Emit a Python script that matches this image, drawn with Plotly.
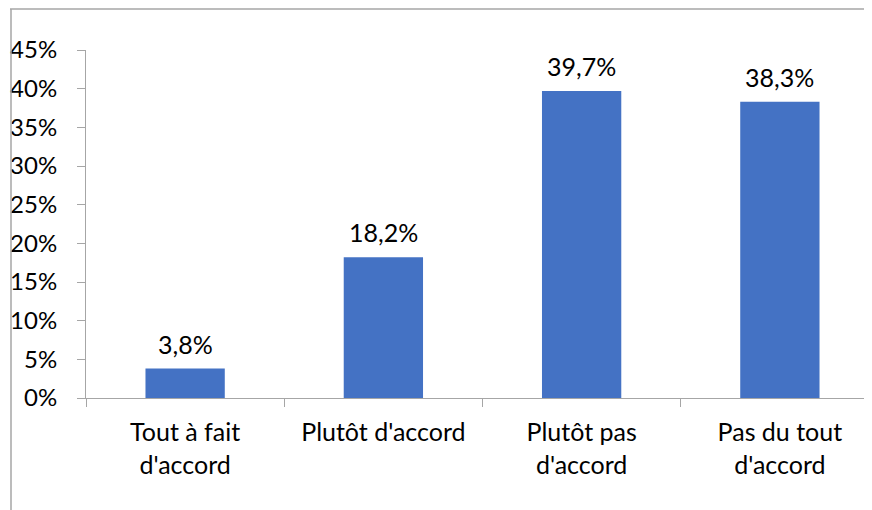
import plotly.graph_objects as go

categories = ["Tout à fait<br>d'accord", "Plutôt d'accord", "Plutôt pas<br>d'accord", "Pas du tout<br>d'accord"]
values = [0.038, 0.182, 0.397, 0.383]
tick_vals = [0, 0.05, 0.10, 0.15, 0.20, 0.25, 0.30, 0.35, 0.40, 0.45]
labels = [f"{v * 100:.1f}%".replace(".", ",") for v in values]

# page body has an 8px margin, so the figure is drawn at (8, 8)
OFF = 8
W, H = 872 - OFF, 510 - OFF
ml, mr, mt, mb = 86 - OFF, 0, 50 - OFF, 112
pw = W - ml - mr
ph = H - mt - mb

FONT = "Lato"
FS = 25

fig = go.Figure()
fig.add_trace(go.Bar(
    x=categories, y=values, width=0.4,
    marker=dict(color="#4472C4", line=dict(width=0)),
    cliponaxis=False,
))

annotations = [
    dict(x=c, y=v, xref="x", yref="y", text=t, showarrow=False,
         yanchor="middle", yshift=25,
         font=dict(family=FONT, size=FS, color="#000000"))
    for c, v, t in zip(categories, values, labels)
]

def px_x(p):
    return (p - OFF - ml) / pw

def px_y(p):
    return (H - mb - (p - OFF)) / ph

fig.update_layout(
    width=W, height=H,
    margin=dict(l=ml, r=mr, t=mt, b=mb, pad=0),
    paper_bgcolor="white", plot_bgcolor="white",
    separators=",.",
    showlegend=False,
    font=dict(family=FONT, size=FS, color="#000000"),
    xaxis=dict(
        range=[-0.5, 3.5 - 7 / 198],
        showline=True, linecolor="#A6A6A6", linewidth=1,
        ticks="outside", tickson="boundaries", ticklen=8, tickcolor="#A6A6A6",
        showgrid=False, zeroline=False,
        tickfont=dict(family=FONT, size=FS, color="#000000"),
        ticklabelstandoff=12,
    ),
    yaxis=dict(
        range=[0, 0.45],
        tickvals=tick_vals, tickformat=".0%",
        showline=True, linecolor="#A6A6A6", linewidth=1,
        ticks="outside", ticklen=8, tickcolor="#A6A6A6",
        showgrid=False, zeroline=False,
        tickfont=dict(family=FONT, size=24, color="#000000"),
        ticklabelstandoff=15,
    ),
    annotations=annotations,
    shapes=[
        dict(type="line", xref="paper", yref="paper", x0=px_x(10), x1=px_x(880), y0=px_y(9), y1=px_y(9),
             line=dict(color="#A6A6A6", width=1.5)),
        dict(type="line", xref="paper", yref="paper", x0=px_x(11), x1=px_x(11), y0=px_y(9), y1=px_y(515),
             line=dict(color="#A6A6A6", width=1.5)),
    ],
)

fig.write_html("out.html")
